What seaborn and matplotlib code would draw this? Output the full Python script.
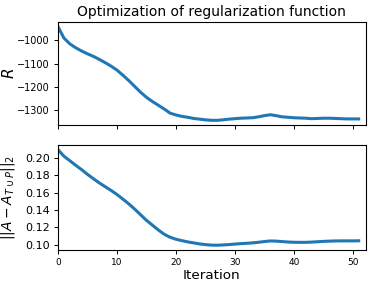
import numpy as np
import pandas as pd
import seaborn as sns
import matplotlib.pyplot as plt

# values
iterations = list(range(52))
reg_values = [
    -941, -990, -1015, -1032, -1046, -1058, -1069, -1082, -1096, -1111,
    -1128, -1150, -1173, -1198, -1223, -1245, -1263, -1279, -1295, -1313,
    -1321, -1327, -1331, -1336, -1339, -1342, -1344, -1344, -1342, -1339,
    -1337, -1335, -1334, -1333, -1329, -1324, -1320, -1324, -1329, -1331,
    -1333, -1334, -1335, -1337, -1336, -1335, -1335, -1336, -1337, -1338,
    -1338, -1338,
]
norm_values = [
    0.2095, 0.2020, 0.1968, 0.1915, 0.1865, 0.1810, 0.1760, 0.1712, 0.1668, 0.1625,
    0.1578, 0.1525, 0.1470, 0.1410, 0.1345, 0.1280, 0.1225, 0.1170, 0.1120, 0.1085,
    0.1062, 0.1046, 0.1031, 0.1020, 0.1008, 0.1000, 0.0994, 0.0993, 0.0996, 0.1000,
    0.1006, 0.1011, 0.1015, 0.1020, 0.1027, 0.1035, 0.1042, 0.1040, 0.1035, 0.1030,
    0.1027, 0.1026, 0.1026, 0.1029, 0.1033, 0.1037, 0.1040, 0.1042, 0.1043, 0.1043,
    0.1043, 0.1044,
]
top_yticks = [-1000, -1100, -1200, -1300]
bottom_yticks = [0.10, 0.12, 0.14, 0.16, 0.18, 0.20]
xticks = [0, 10, 20, 30, 40, 50]

df = pd.DataFrame({"iteration": iterations, "R": reg_values, "norm": norm_values})

fig = plt.figure(figsize=(3.74, 2.88), dpi=100)
ax_top = fig.add_axes([0.155, 0.566, 0.823, 0.358])
ax_bot = fig.add_axes([0.155, 0.132, 0.823, 0.365], sharex=ax_top)

sns.lineplot(data=df, x="iteration", y="R", ax=ax_top, color="#1f77b4", linewidth=2.2)
sns.lineplot(data=df, x="iteration", y="norm", ax=ax_bot, color="#1f77b4", linewidth=2.2)

ax_top.set_xlim(0, 52.2)
ax_top.set_yticks(top_yticks)
ax_bot.set_yticks(bottom_yticks)
ax_bot.set_xticks(xticks)
ax_bot.yaxis.set_major_formatter(plt.FormatStrFormatter("%.2f"))

for ax in (ax_top, ax_bot):
    ax.tick_params(length=3, width=0.7, pad=3)
    for sp in ax.spines.values():
        sp.set_linewidth(0.8)
ax_top.tick_params(axis="y", labelsize=7)
ax_bot.tick_params(axis="y", labelsize=8)
ax_bot.tick_params(axis="x", labelsize=6.5)

ax_top.tick_params(labelbottom=False)
ax_top.set_xlabel("")
ax_top.set_ylabel("$R$", fontsize=11)
ax_top.yaxis.set_label_coords(-0.133, 0.5)
ax_top.set_title("Optimization of regularization function", fontsize=10, pad=4)
ax_bot.set_ylabel(r"$||A - A_{T \cup P}||_2$", fontsize=10)
ax_bot.yaxis.set_label_coords(-0.133, 0.5)
ax_bot.set_xlabel("Iteration", fontsize=9.7, labelpad=1)

fig.savefig("out.png", dpi=100)
